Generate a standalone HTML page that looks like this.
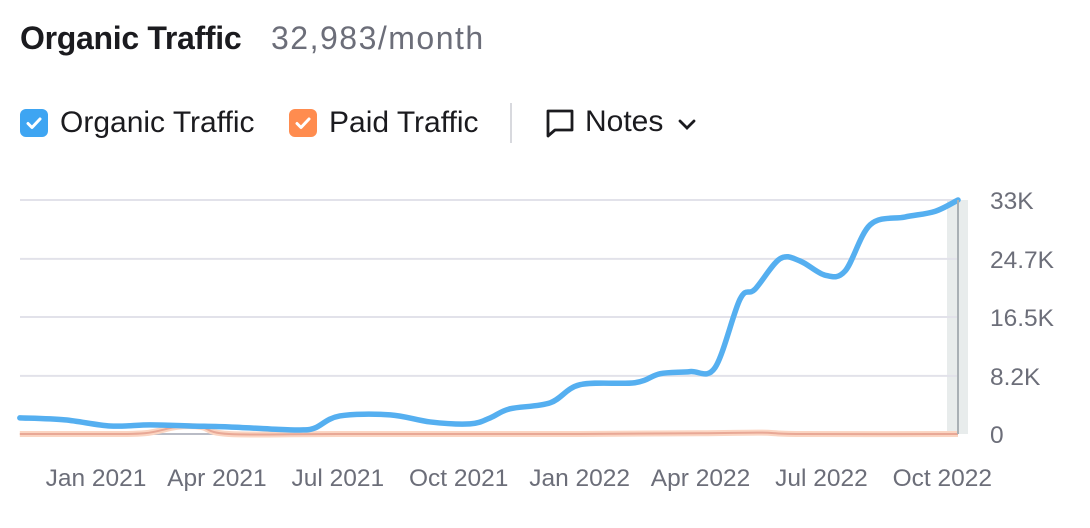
<!DOCTYPE html>
<html><head><meta charset="utf-8"><style>
body{margin:0;background:#fff;font-family:"Liberation Sans",sans-serif;}
#wrap{position:relative;width:1090px;height:528px;overflow:hidden;}
.t{position:absolute;white-space:nowrap;}
.cb{position:absolute;width:28px;height:28px;border-radius:6px;}
</style></head><body>
<div id="wrap">
<div class="t" style="left:20px;top:20px;font-size:32px;font-weight:bold;color:#1b1b1f;letter-spacing:-0.3px;">Organic Traffic</div>
<div class="t" style="left:271px;top:20px;font-size:32px;color:#6c6e79;letter-spacing:1.5px;">32,983/month</div>
<div>
<div class="cb" style="left:20px;top:109px;background:#3ea5f2;"><svg width="28" height="28"><path d="M8 14.5l4 4 8-8.5" fill="none" stroke="#fff" stroke-width="3" stroke-linecap="round" stroke-linejoin="round"/></svg></div>
<div class="t" style="left:60px;top:106px;font-size:30px;color:#1b1b1f;">Organic Traffic</div></div>
<div>
<div class="cb" style="left:289px;top:109px;background:#ff8c4f;"><svg width="28" height="28"><path d="M8 14.5l4 4 8-8.5" fill="none" stroke="#fff" stroke-width="3" stroke-linecap="round" stroke-linejoin="round"/></svg></div>
<div class="t" style="left:329px;top:106px;font-size:30px;color:#1b1b1f;">Paid Traffic</div></div>
<div style="position:absolute;left:510px;top:103px;width:2px;height:40px;background:#d8d9de;"></div>
<div>
<svg style="position:absolute;left:545px;top:108px" width="30" height="30"><path d="M3 3h24v19H10l-7 6z" fill="none" stroke="#1b1b1f" stroke-width="2.8" stroke-linejoin="round"/></svg>
<div class="t" style="left:585px;top:105px;font-size:30px;color:#1b1b1f;">Notes</div>
<svg style="position:absolute;left:677px;top:118px" width="20" height="14"><path d="M3 3l7 7 7-7" fill="none" stroke="#1b1b1f" stroke-width="2.8" stroke-linecap="round"/></svg></div>
<svg id="chart" width="1090" height="528" style="position:absolute;left:0;top:0"></svg>
</div>
<script>
const yTicks=[0,8200,16500,24700,33000];
const yTickLabels=["0","8.2K","16.5K","24.7K","33K"];
const xTickMonths=[0,3,6,9,12,15,18,21];
const xTickLabels=["Jan 2021","Apr 2021","Jul 2021","Oct 2021","Jan 2022","Apr 2022","Jul 2022","Oct 2022"];
const organicMonths=[-1.89,-0.77,0.35,1.34,2.33,3.32,4.32,5.06,5.43,6.05,7.30,8.29,9.28,9.78,10.27,11.27,12.01,13.37,14.0,14.74,15.36,15.98,16.35,16.97,17.47,18.09,18.59,19.21,20.07,20.82,21.39];
const organicValues=[2270,1990,1130,1280,1130,990,710,570,850,2550,2700,1700,1420,2270,3550,4400,6950,7230,8500,8800,9360,19000,20400,24700,24400,22400,23000,29500,30600,31400,33000];
const paidMonths=[-1.89,0,1.2,2.0,2.6,3.3,6,12,15,16.5,17.5,21.39];
const paidValues=[0,0,100,1000,1000,0,0,0,100,200,0,0];
const NS="http://www.w3.org/2000/svg";
const svg=document.getElementById('chart');
const X0=96,MW=40.3,Y0=434,Y1=200,VMAX=33000;
const xs=m=>X0+m*MW, ys=v=>Y0-(v/VMAX)*(Y0-Y1);
function el(t,a){const e=document.createElementNS(NS,t);for(const k in a)e.setAttribute(k,a[k]);svg.appendChild(e);return e;}
const band=el('rect',{x:947,y:200,width:21,height:234,fill:'#e8ecec'});


yTicks.forEach((v,i)=>{
 const g=el('line',{x1:20,x2:958,y1:ys(v),y2:ys(v),stroke:i==0?'#b9bcc6':'#e2e2ea','stroke-width':2});
 
 
 const t=el('text',{x:990,y:ys(v)+9,'font-size':24.5,fill:'#6c6e79','font-family':'Liberation Sans, sans-serif'});
 t.textContent=yTickLabels[i];
 
 
});
xTickMonths.forEach((m,i)=>{
 const t=el('text',{x:xs(m),y:486,'font-size':24.5,fill:'#6c6e79','text-anchor':'middle','font-family':'Liberation Sans, sans-serif'});
 t.textContent=xTickLabels[i];
 
 
});
function path(ms,vs){const p=ms.map((m,i)=>[xs(m),ys(vs[i])]);let d='M'+p[0][0]+' '+p[0][1];
 for(let i=0;i<p.length-1;i++){const a=p[i-1]||p[i],b=p[i],c=p[i+1],e=p[i+2]||c;
  d+=` C${b[0]+(c[0]-a[0])/6} ${b[1]+(c[1]-a[1])/6} ${c[0]-(e[0]-b[0])/6} ${c[1]-(e[1]-b[1])/6} ${c[0]} ${c[1]}`;}return d;}
const pd=path(paidMonths,paidValues);
const ph=el('path',{d:pd,fill:'none',stroke:'#fbd5c2','stroke-width':6});


const pl=el('path',{d:pd,fill:'none',stroke:'#e8a896','stroke-width':2});


const ol=el('path',{d:path(organicMonths,organicValues),fill:'none',stroke:'#55aff0','stroke-width':5.5,'stroke-linecap':'round'});


const hl=el('line',{x1:958,x2:958,y1:200,y2:434,stroke:'#a9b0b5','stroke-width':2});


</script>
</body></html>
